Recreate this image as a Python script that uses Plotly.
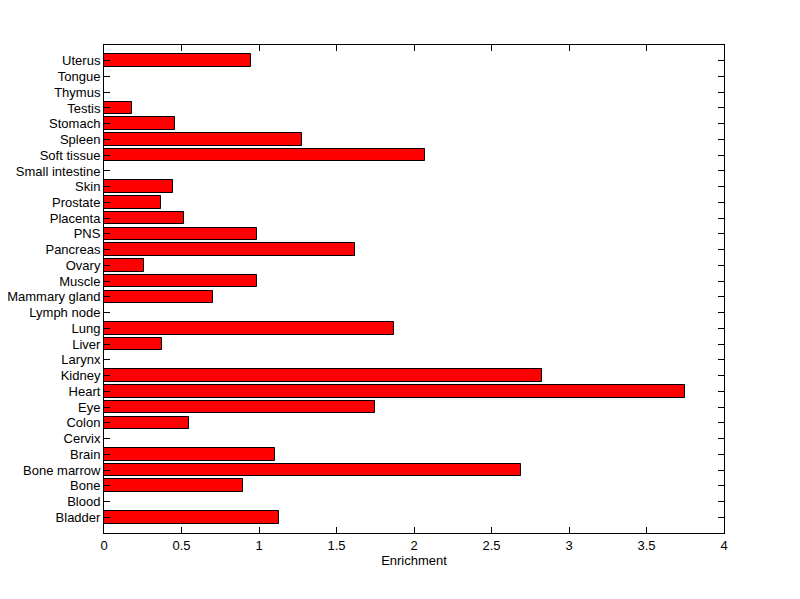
import plotly.graph_objects as go

tissues = ["Bladder", "Blood", "Bone", "Bone marrow", "Brain", "Cervix", "Colon", "Eye",
           "Heart", "Kidney", "Larynx", "Liver", "Lung", "Lymph node", "Mammary gland",
           "Muscle", "Ovary", "Pancreas", "PNS", "Placenta", "Prostate", "Skin",
           "Small intestine", "Soft tissue", "Spleen", "Stomach", "Testis", "Thymus",
           "Tongue", "Uterus"]
enrichment = [1.127, 0, 0.895, 2.688, 1.101, 0, 0.546, 1.746,
              3.746, 2.824, 0, 0.372, 1.869, 0, 0.701,
              0.985, 0.256, 1.617, 0.985, 0.514, 0.366, 0.443,
              0, 2.069, 1.275, 0.456, 0.178, 0, 0, 0.946]
x_ticks = [0, 0.5, 1, 1.5, 2, 2.5, 3, 3.5, 4]
x_tick_text = ["0", "0.5", "1", "1.5", "2", "2.5", "3", "3.5", "4"]

positions = list(range(1, len(tissues) + 1))

fig = go.Figure(go.Bar(
    x=enrichment, y=positions, orientation="h", width=0.8,
    marker=dict(color="#FF0000", line=dict(color="black", width=1)),
))

font = dict(family="Liberation Sans, Arial, sans-serif", size=13, color="black")
fig.update_layout(
    width=800, height=599,
    margin=dict(l=96, r=84, t=37, b=74),
    paper_bgcolor="white", plot_bgcolor="white",
    font=font, showlegend=False, bargap=0,
)
fig.update_xaxes(
    range=[0, 4], tickvals=x_ticks, ticktext=x_tick_text,
    ticks="inside", ticklen=6, tickcolor="black", tickwidth=1,
    showline=True, linecolor="black", linewidth=1, mirror="ticks",
    showgrid=False, zeroline=False, automargin=False,
    title=dict(text="Enrichment", font=font, standoff=4),
)
fig.update_yaxes(
    range=[0, len(tissues) + 1], tickvals=positions, ticktext=tissues,
    ticks="inside", ticklen=6, tickcolor="black", tickwidth=1,
    showline=True, linecolor="black", linewidth=1, mirror="ticks",
    showgrid=False, zeroline=False, automargin=False,
)

fig.write_html("out.html")
